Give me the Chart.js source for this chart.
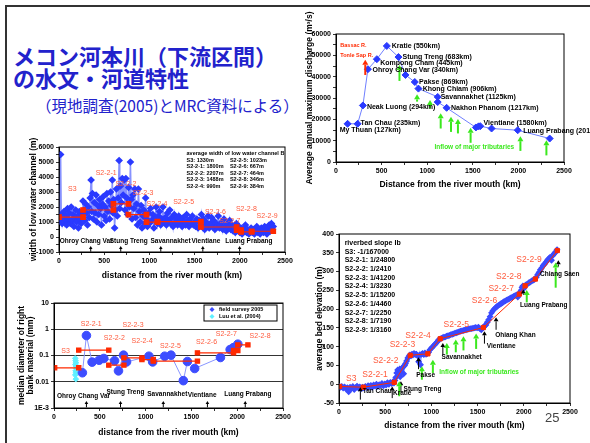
<!DOCTYPE html>
<html lang="ja">
<head>
<meta charset="utf-8">
<title>メコン河本川（下流区間）の水文・河道特性</title>
<script src="https://cdn.jsdelivr.net/npm/chart.js@4.4.1/dist/chart.umd.min.js"></script>
<style>
  html, body { margin: 0; padding: 0; background: #fff; }
  body { position: relative; width: 590px; height: 443px; overflow: hidden; }
  #frame { position: absolute; left: 5px; top: 5px; width: 620px; height: 460px; border-left: 2px solid #333; border-top: 2px solid #333; }
  #title { position: absolute; left: 13px; top: 44px; font: bold 22px "Noto Sans CJK JP"; line-height: 22px; color: #2222cc; white-space: nowrap; }
  #sub { position: absolute; left: 36px; top: 94px; font: 15.5px "Noto Sans CJK JP"; color: #2222cc; white-space: nowrap; }
  #page { position: absolute; left: 545px; top: 410px; font: 13px "Liberation Sans"; color: #444; }
  canvas { position: absolute; }
</style>
</head>
<body>
<div id="frame"></div>
<div id="title">メコン河本川（下流区間）<br>の水文・河道特性</div>
<div id="sub">（現地調査(2005)とMRC資料による）</div>
<canvas id="discharge" width="290" height="195" style="left:300px;top:0px"></canvas>
<canvas id="width" width="290" height="155" style="left:10px;top:128px"></canvas>
<canvas id="grain" width="290" height="150" style="left:10px;top:290px"></canvas>
<canvas id="bed" width="290" height="218" style="left:300px;top:225px"></canvas>
<div id="page">25</div>
<script>
// ---------------- data ----------------

// average annual maximum discharge (top right)
const kmQ = [127, 237, 295, 350, 448, 557, 685, 762, 864, 904, 1115, 1115, 1213, 1534, 1563, 1582, 1706, 1993, 2343];
const dischargeQ = [17900, 17900, 26500, 43500, 48200, 54400, 49200, 40800, 37500, 34400, 30500, 28100, 25400, 16200, 16700, 16800, 15700, 14900, 11000];

// sections of the lower Mekong
const sections = ["S3", "S2-2-1", "S2-2-2", "S2-2-3", "S2-2-4", "S2-2-5", "S2-2-6", "S2-2-7", "S2-2-8", "S2-2-9"];

// width of low water channel, survey points [km, m]
const surveyWidth = [
    [0, 1300], [10, 1100], [18, 5500], [25, 1500], [35, 900], [45, 1300], [55, 1700], [65, 1000], [75, 1400], [85, 800],
    [95, 1900], [105, 1200], [115, 1600], [125, 900], [135, 2000], [145, 1100], [155, 1500], [165, 700], [175, 1300], [185, 1800],
    [195, 1000], [205, 1400], [215, 600], [225, 1700], [235, 1200], [245, 900], [255, 1500], [265, 2400], [275, 1800], [285, 1100],
    [295, 2200], [305, 1600], [315, 800], [325, 2000], [335, 1300], [345, 2600], [355, 3800], [362, 1700], [370, 2900], [380, 1200],
    [390, 2300], [400, 1600], [410, 2800], [420, 1000], [430, 2100], [440, 1500], [450, 2500], [460, 1900], [470, 800], [480, 2200],
    [490, 2700], [500, 1400], [510, 2000], [520, 1100], [530, 2900], [540, 1700], [550, 2400], [560, 1200], [570, 3000], [580, 2100],
    [590, 3800], [598, 1600], [605, 2500], [615, 600], [625, 1800], [635, 3200], [645, 1400], [655, 2600], [665, 5100], [672, 1900],
    [680, 3400], [690, 2300], [700, 3900], [710, 2800], [720, 3800], [730, 1800], [740, 3900], [750, 2600], [760, 1500], [770, 3300],
    [780, 2000], [790, 5000], [798, 2500], [808, 1200], [818, 2800], [828, 1900], [838, 3200], [848, 1300], [858, 2200], [868, 800],
    [878, 3200], [888, 1700], [898, 1000], [908, 2100], [918, 600], [928, 1400], [938, 1800], [948, 900], [958, 2600], [968, 1200],
    [978, 700], [990, 1600], [1000, 900], [1012, 1900], [1025, 1100], [1038, 1500], [1050, 600], [1062, 1300], [1075, 2000], [1088, 900],
    [1100, 1400], [1112, 1700], [1125, 800], [1138, 1200], [1150, 2000], [1162, 1000], [1175, 1300], [1188, 800], [1200, 1600], [1212, 1100],
    [1225, 1800], [1238, 900], [1250, 1300], [1262, 700], [1275, 1500], [1288, 1000], [1300, 1200], [1312, 800], [1325, 1400], [1338, 900],
    [1350, 1100], [1362, 700], [1375, 1300], [1388, 1000], [1400, 800], [1412, 1500], [1425, 1100], [1438, 700], [1450, 1200], [1462, 900],
    [1475, 1400], [1488, 800], [1500, 1000], [1512, 700], [1525, 1200], [1538, 600], [1550, 1100], [1562, 900], [1575, 1500], [1588, 700],
    [1600, 1200], [1612, 500], [1625, 1000], [1638, 800], [1650, 1400], [1662, 600], [1675, 900], [1688, 1300], [1700, 700], [1712, 1100],
    [1725, 500], [1738, 900], [1750, 700], [1762, 1400], [1775, 600], [1788, 800], [1800, 1000], [1812, 500], [1825, 1200], [1838, 700],
    [1850, 400], [1862, 900], [1875, 600], [1888, 1100], [1900, 500], [1912, 800], [1925, 400], [1938, 700], [1950, 300], [1962, 900],
    [1975, 500], [1988, 700], [2000, 300], [2012, 600], [2025, 200], [2038, 500], [2050, 400], [2062, 800], [2075, 300], [2088, 500],
    [2100, 200], [2112, 400], [2125, 600], [2138, 300], [2150, 500], [2162, 200], [2175, 400], [2188, 700], [2200, 300], [2212, 500],
    [2225, 200], [2238, 600], [2250, 400], [2262, 300], [2275, 700], [2288, 400], [2300, 200], [2312, 600], [2325, 800], [2338, 400],
    [2350, 900], [2362, 500], [2370, 700]
];
// average width per section
const secStartB = [0, 266, 602, 768, 968, 1089, 1570, 1965, 2013, 2131];
const secEndB = [266, 602, 768, 968, 1089, 1570, 1965, 2013, 2131, 2370];
const secWidthB = [1330, 1800, 2207, 1488, 990, 1023, 667, 464, 346, 384];

// median diameter of right bank material
const kmGrain = [310, 354, 416, 493, 544, 661, 704, 759, 792, 1036, 1077, 1208, 1277, 1412, 1456, 1536, 1817, 1923, 1960, 2007];
const diaGrain = [0.022, 0.575, 0.056, 0.066, 0.077, 0.063, 0.026, 0.103, 0.057, 0.094, 0.057, 0.094, 0.103, 0.011, 0.059, 0.032, 0.084, 0.169, 0.2, 0.27];
const kmLuu = [232, 236, 240, 234, 238, 242, 236, 240, 232, 238];
const diaLuu = [0.078, 0.063, 0.053, 0.046, 0.04, 0.032, 0.026, 0.022, 0.018, 0.0126];
const secStartC = [7, 270, 598, 763, 960, 1084, 1566, 1960, 2007];
const secEndC = [270, 598, 763, 960, 1084, 1566, 1960, 2007, 2117];
const secDiaC = [0.034, 0.16, 0.043, 0.081, 0.07, 0.061, 0.126, 0.155, 0.254];
const logTicksC = [0.001, 0.01, 0.1, 1, 10];

// average bed elevation, survey points [km, m]
const surveyBed = [
    [0, -5], [15, -8], [30, -6], [45, -10], [60, -7], [75, -12], [90, -9], [105, -20], [120, -8], [135, -11],
    [150, -6], [165, -14], [180, -9], [195, -5], [210, -10], [225, -7], [240, -12], [255, -8],
    [270, -10], [285, -6], [300, -9], [315, -4], [330, -7], [345, -3], [360, -8], [375, -2], [390, -5], [405, 0],
    [420, -6], [435, -1], [450, -3], [465, 2], [480, -4], [495, 1], [510, -2], [525, 4], [540, 0], [555, 5],
    [570, 2], [585, 7], [595, 3],
    [605, 10], [615, 18], [625, 30], [635, 38], [645, 25], [655, 40], [662, 20], [670, 35], [680, 42], [690, 45],
    [700, 28], [710, 50], [720, 55], [732, 62], [745, 70], [758, 75], [768, 78],
    [780, 76], [790, 80], [800, 78], [812, 82], [825, 79], [838, 80], [850, 76], [862, 60], [872, 78], [882, 52],
    [892, 80], [905, 82], [918, 79], [930, 83], [942, 80], [955, 82],
    [970, 85], [985, 92], [1000, 96], [1015, 100], [1030, 104], [1045, 108], [1060, 112], [1075, 117], [1090, 120],
    [1105, 122], [1120, 124], [1135, 125], [1150, 126], [1165, 128], [1180, 129], [1195, 130], [1210, 132], [1225, 133],
    [1240, 134], [1255, 136], [1270, 137], [1285, 138], [1300, 140], [1315, 141], [1330, 142], [1345, 143], [1360, 144],
    [1375, 145], [1390, 146], [1405, 147], [1420, 148], [1435, 148], [1450, 149], [1465, 150], [1480, 151], [1495, 150],
    [1510, 152], [1525, 148], [1540, 145], [1555, 150], [1565, 152],
    [1575, 155], [1590, 158], [1605, 165], [1620, 172], [1635, 180], [1650, 190], [1665, 196], [1680, 200], [1695, 204],
    [1710, 207], [1725, 210], [1740, 212], [1755, 215], [1770, 217], [1785, 220], [1800, 222], [1815, 224], [1830, 226],
    [1845, 228], [1860, 230], [1875, 232], [1890, 234], [1905, 236], [1920, 238], [1935, 232], [1945, 238],
    [1960, 245], [1970, 250], [1980, 258], [1990, 262], [2000, 255], [2010, 262],
    [2025, 265], [2040, 267], [2055, 270], [2070, 272], [2085, 275], [2100, 277], [2115, 279],
    [2135, 285], [2150, 292], [2165, 298], [2180, 305], [2195, 310], [2210, 316], [2225, 320], [2240, 325], [2255, 330],
    [2270, 334], [2285, 338], [2300, 330], [2315, 343], [2330, 348], [2345, 352], [2360, 358]
];
// section end points of the bed profile
const kmBed = [6, 263, 598, 771, 962, 1095, 1563, 1952, 2014, 2125, 2363];
const elevBed = [-6, -8, 5, 77, 81, 121, 151, 240, 262, 280, 356];
const slopeBed = ["-1/167000", "1/24800", "1/2410", "1/41200", "1/3230", "1/15200", "1/4460", "1/2250", "1/7190", "1/3160"];

// ---------------- styles ----------------
const FONT = '"Liberation Sans", Arial, sans-serif';
const RED = "#ff2a00";
const RED_TXT = "#ff5a3c";
const GREEN = "#3be81e";
const BLUE = "#2a3aff";
const BLUE_LINE = "rgba(95,110,255,0.75)";

// Draw a box round the plot area
const framePlugin = {
    id: "frame",
    afterDatasetsDraw(chart) {
        const a = chart.chartArea;
        const ctx = chart.ctx;
        ctx.save();
        ctx.strokeStyle = "#000";
        ctx.lineWidth = 1;
        ctx.strokeRect(a.left, a.top, a.right - a.left, a.bottom - a.top);
        ctx.restore();
    },
};

function drawArrow(ctx, x, yFrom, yTo, st) {
    ctx.strokeStyle = st.color;
    ctx.fillStyle = st.color;
    ctx.lineWidth = st.width;
    ctx.beginPath();
    ctx.moveTo(x, yFrom);
    ctx.lineTo(x, yTo + st.head);
    ctx.stroke();
    ctx.beginPath();
    ctx.moveTo(x, yTo);
    ctx.lineTo(x - st.head * 0.6, yTo + st.head);
    ctx.lineTo(x + st.head * 0.6, yTo + st.head);
    ctx.closePath();
    ctx.fill();
}

// Text and arrows placed in data coordinates
const notesPlugin = {
    id: "notes",
    afterDraw(chart, args, opts) {
        const ctx = chart.ctx;
        const xs = chart.scales.x;
        const ys = chart.scales.y;
        ctx.save();
        (opts.arrows || []).forEach(g => {
            g.items.forEach(a => drawArrow(ctx, xs.getPixelForValue(a[0]), ys.getPixelForValue(a[1]), ys.getPixelForValue(a[2]), g));
        });
        ctx.textAlign = "left";
        ctx.textBaseline = "middle";
        (opts.texts || []).forEach(g => {
            ctx.font = g.font;
            ctx.fillStyle = g.color;
            g.items.forEach(t => ctx.fillText(t[0], xs.getPixelForValue(t[1]), ys.getPixelForValue(t[2])));
        });
        (opts.blocks || []).forEach(b => {
            ctx.font = b.font;
            ctx.fillStyle = "#000";
            const y0 = ys.getPixelForValue(b.y);
            b.rows.forEach((r, i) => {
                ctx.fillText(r[0], xs.getPixelForValue(b.x), y0 + i * b.dy);
                if (r[1]) ctx.fillText(r[1], xs.getPixelForValue(b.x2), y0 + i * b.dy);
            });
        });
        ctx.restore();
    },
};

Chart.register(framePlugin, notesPlugin);

function axis(o) {
    return {
        type: o.type || "linear",
        min: o.min,
        max: o.max,
        afterFit: s => {
            if (o.w) s.width = o.w;
            if (o.h) s.height = o.h;
        },
        afterBuildTicks: o.ticksAt ? s => { s.ticks = o.ticksAt.map(v => ({ value: v })); } : undefined,
        border: { display: true, color: "#000", width: 1 },
        grid: { drawOnChartArea: !!o.grid, color: "#000", lineWidth: 0.8, tickLength: 3 },
        ticks: {
            stepSize: o.step,
            autoSkip: false,
            maxRotation: 0,
            padding: 2,
            color: "#000",
            font: { family: FONT, size: 7, weight: "bold" },
            callback: o.fmt || (v => (v % o.every === 0 ? v : "")),
        },
        title: {
            display: true,
            text: o.title,
            color: "#000",
            padding: o.tpad,
            font: { family: FONT, size: 8.5, weight: "bold", lineHeight: 1.05 },
        },
    };
}

function segments(starts, ends, levels) {
    const pts = [];
    starts.forEach((s, i) => {
        pts.push({ x: s, y: levels[i] }, { x: ends[i], y: levels[i] }, { x: ends[i], y: null });
    });
    return pts;
}

const base = {
    responsive: false,
    animation: false,
    devicePixelRatio: 1,
    events: [],
};
const noLegend = { legend: { display: false }, tooltip: { enabled: false } };

// ---------------- discharge (top right) ----------------
new Chart(document.getElementById("discharge"), {
    type: "scatter",
    data: {
        datasets: [{
            data: kmQ.map((k, i) => ({ x: k, y: dischargeQ[i] })),
            showLine: true,
            borderColor: "#6f7fff",
            borderWidth: 1,
            pointStyle: "rectRot",
            pointRadius: 3.5,
            pointBackgroundColor: BLUE,
            pointBorderColor: BLUE,
        }],
    },
    options: {
        ...base,
        layout: { padding: { top: 34, right: 26 } },
        scales: {
            x: axis({ min: 0, max: 2500, step: 250, every: 500, h: 33, tpad: { bottom: 6 }, title: "Distance from the river mouth (km)" }),
            y: axis({ min: 0, max: 60000, step: 5000, every: 10000, w: 36, tpad: { top: 5 }, title: "Average annual maximum discharge (m³/s)" }),
        },
        plugins: {
            ...noLegend,
            notes: {
                arrows: [
                    { color: GREEN, width: 2, head: 5, items: [[696, 38000, 45500], [889, 28300, 31700], [1031, 25100, 29100], [1148, 15700, 22800], [1261, 14100, 21200], [1337, 13400, 20100], [1476, 9000, 16000], [2022, 5200, 12100], [2307, 3100, 10200]] },
                    { color: RED, width: 2, head: 5, items: [[321, 40800, 47900]] },
                ],
                texts: [
                    { color: RED, font: "bold 5.5px " + FONT, items: [["Bassac R.", 47, 54700], ["Tonle Sap R.", 47, 49800]] },
                    {
                        color: "#000", font: "bold 7px " + FONT, items: [
                            ["Kratie (550km)", 612, 54400], ["Stung Treng (683km)", 729, 49200], ["Kompong Cham (445km)", 485, 46300],
                            ["Ohroy Chang Var (340km)", 401, 42900], ["Pakse (869km)", 911, 37500], ["Khong Chiam (906km)", 951, 34100],
                            ["Savannakhet (1125km)", 1148, 30300], ["Nakhon Phanom (1217km)", 1261, 25100], ["Neak Luong (294km)", 339, 25900],
                            ["Tan Chau (235km)", 270, 18400], ["My Thuan (127km)", 40, 15200], ["Vientiane (1580km)", 1618, 18100],
                            ["Luang Prabang (2010km)", 2052, 14500],
                        ],
                    },
                    { color: GREEN, font: "bold 6.5px " + FONT, items: [["Inflow of major tributaries", 1079, 7100]] },
                ],
            },
        },
    },
});

// ---------------- width of low water channel (top left) ----------------
const stationArrow = { color: "#000", width: 1, head: 3 };
new Chart(document.getElementById("width"), {
    type: "scatter",
    data: {
        datasets: [
            {
                data: segments(secStartB, secEndB, secWidthB),
                showLine: true,
                borderColor: RED,
                borderWidth: 1.2,
                pointStyle: "rect",
                pointRadius: 3.2,
                pointBackgroundColor: RED,
                pointBorderColor: RED,
            },
            {
                data: surveyWidth.map(p => ({ x: p[0], y: p[1] })),
                showLine: true,
                borderColor: BLUE_LINE,
                borderWidth: 1.5,
                pointStyle: "rectRot",
                pointRadius: 2.8,
                pointBackgroundColor: BLUE,
                pointBorderColor: BLUE,
            },
        ],
    },
    options: {
        ...base,
        layout: { padding: { top: 19, right: 15 } },
        scales: {
            x: axis({ min: 0, max: 2500, step: 250, every: 500, h: 31, tpad: { bottom: 3 }, title: "distance from the river mouth (km)" }),
            y: axis({ min: -1000, max: 6000, step: 500, every: 1000, w: 49, tpad: { top: 19 }, title: "width of low water channel (m)" }),
        },
        plugins: {
            ...noLegend,
            notes: {
                arrows: [{ ...stationArrow, items: [[351, -980, -600], [683, -980, -600], [1126, -980, -600], [1591, -980, -600], [1998, -980, -600]] }],
                texts: [
                    {
                        color: RED_TXT, font: "7px " + FONT, items: [
                            [sections[0], 100, 3170], [sections[1], 406, 4270], [sections[2], 624, 3560], [sections[3], 812, 2900],
                            [sections[4], 968, 2170], [sections[5], 1263, 2320], [sections[6], 1614, 1660], [sections[7], 1773, 1080],
                            [sections[8], 1957, 1840], [sections[9], 2186, 1390],
                        ],
                    },
                    {
                        color: "#000", font: "bold 6.5px " + FONT, items: [
                            ["Ohroy Chang Var", 7, -270], ["Stung Treng", 561, -270], ["Savannakhet", 1012, -270],
                            ["Vientiane", 1466, -270], ["Luang Prabang", 1839, -270],
                        ],
                    },
                ],
                blocks: [{
                    font: "bold 5.5px " + FONT, x: 1411, x2: 1891, y: 5560, dy: 6.5,
                    rows: [["average width of low water channel B", ""]].concat(
                        [0, 1, 2, 3, 4].map(i => [sections[i] + ": " + secWidthB[i] + "m", sections[i + 5] + ": " + secWidthB[i + 5] + "m"])
                    ),
                }],
            },
        },
    },
});

// ---------------- median diameter (bottom left) ----------------
const grainLegend = {
    id: "grainLegend",
    afterDraw(chart) {
        const a = chart.chartArea;
        const ctx = chart.ctx;
        const x0 = a.right - 79, y0 = a.top + 2;
        ctx.save();
        ctx.fillStyle = "#fff";
        ctx.fillRect(x0, y0, 73, 16);
        ctx.strokeStyle = "#000";
        ctx.lineWidth = 1;
        ctx.strokeRect(x0, y0, 73, 16);
        ctx.font = "bold 5.5px " + FONT;
        ctx.textBaseline = "middle";
        chart.data.datasets.slice(1).forEach((d, i) => {
            const y = y0 + 4.5 + i * 7;
            ctx.fillStyle = d.pointBackgroundColor;
            ctx.beginPath();
            ctx.moveTo(x0 + 8, y - 2.5);
            ctx.lineTo(x0 + 10.5, y);
            ctx.lineTo(x0 + 8, y + 2.5);
            ctx.lineTo(x0 + 5.5, y);
            ctx.fill();
            ctx.fillStyle = "#000";
            ctx.fillText(d.label, x0 + 15, y);
        });
        ctx.restore();
    },
};
new Chart(document.getElementById("grain"), {
    type: "scatter",
    data: {
        datasets: [
            {
                data: segments(secStartC, secEndC, secDiaC),
                showLine: true,
                borderColor: RED,
                borderWidth: 1.2,
                pointStyle: "rect",
                pointRadius: 3,
                pointBackgroundColor: RED,
                pointBorderColor: RED,
            },
            {
                label: "field survey 2005",
                data: kmGrain.map((k, i) => ({ x: k, y: diaGrain[i] })),
                showLine: true,
                borderColor: "#8a96ff",
                borderWidth: 1,
                pointStyle: "circle",
                pointRadius: 4.3,
                pointBackgroundColor: "#3d4dff",
                pointBorderColor: "#3d4dff",
            },
            {
                label: "Luu et al. (2004)",
                data: kmLuu.map((k, i) => ({ x: k, y: diaLuu[i] })),
                pointStyle: "rectRot",
                pointRadius: 2.8,
                pointBackgroundColor: "#5ff0ff",
                pointBorderColor: "#5ff0ff",
            },
        ],
    },
    options: {
        ...base,
        layout: { padding: { top: 13, right: 17 } },
        scales: {
            x: axis({ min: 0, max: 2500, step: 250, every: 500, h: 32, tpad: { bottom: 3 }, title: "distance from the river mouth (km)" }),
            y: axis({
                type: "logarithmic", min: 0.001, max: 10, w: 44, grid: true, ticksAt: logTicksC, tpad: { top: 7 },
                fmt: v => (v === 0.001 ? "1E-3" : String(v)),
                title: ["median diameter of right", "bank material (mm)"],
            }),
        },
        plugins: {
            ...noLegend,
            notes: {
                arrows: [{ ...stationArrow, items: [[354, 0.00106, 0.00185], [726, 0.00106, 0.00185], [1193, 0.00106, 0.00185], [1675, 0.00106, 0.00185], [2088, 0.00106, 0.00185]] }],
                texts: [
                    {
                        color: RED_TXT, font: "7px " + FONT, items: [
                            [sections[0], 80, 0.15], [sections[1], 292, 1.55], [sections[2], 544, 0.48], [sections[3], 748, 1.46],
                            [sections[4], 847, 0.36], [sections[5], 1157, 0.226], [sections[6], 1551, 0.33], [sections[7], 1766, 0.645],
                            [sections[8], 2135, 0.54],
                        ],
                    },
                    {
                        color: "#000", font: "bold 6.5px " + FONT, items: [
                            ["Ohroy Chang Var", 33, 0.00286], ["Stung Treng", 573, 0.00417], ["Savannakhet", 1018, 0.00324],
                            ["Vientiane", 1460, 0.00311], ["Luang Prabang", 1858, 0.00324],
                        ],
                    },
                ],
            },
        },
    },
    plugins: [grainLegend],
});

// ---------------- bed elevation (bottom right) ----------------
new Chart(document.getElementById("bed"), {
    type: "scatter",
    data: {
        datasets: [
            {
                data: kmBed.map((k, i) => ({ x: k, y: elevBed[i] })),
                showLine: true,
                borderColor: RED,
                borderWidth: 1,
                pointStyle: "rect",
                pointRadius: 3,
                pointBackgroundColor: RED,
                pointBorderColor: RED,
            },
            {
                data: surveyBed.map(p => ({ x: p[0], y: p[1] })),
                showLine: true,
                borderColor: BLUE_LINE,
                borderWidth: 1.2,
                pointStyle: "rectRot",
                pointRadius: 2.6,
                pointBackgroundColor: "#3a4aff",
                pointBorderColor: "#3a4aff",
            },
        ],
    },
    options: {
        ...base,
        layout: { padding: { top: 9, right: 20 } },
        scales: {
            x: axis({ min: 0, max: 2500, step: 250, every: 500, h: 40, tpad: { bottom: 13 }, title: "distance from the river mouth (km)" }),
            y: axis({ min: -50, max: 400, step: 50, every: 50, w: 39, tpad: { top: 15 }, title: "average bed elevation (m)" }),
        },
        plugins: {
            ...noLegend,
            notes: {
                arrows: [
                    { color: "#000", width: 1, head: 4, items: [[231, -41, -8], [576, -37, -6], [670, -22, 8], [861, 40, 72], [1124, 79, 110], [1574, 108, 141], [1700, 145, 178], [1995, 238, 252], [2374, 313, 330]] },
                    { color: GREEN, width: 2, head: 5, items: [[652, -32, 8], [897, 12, 48], [1016, 30, 65], [1167, 79, 110], [1264, 85, 119], [1347, 90, 128], [1484, 94, 135], [2032, 218, 251], [2345, 257, 324]] },
                ],
                texts: [
                    {
                        color: RED_TXT, font: "8.5px " + FONT, items: [
                            [sections[0], 76, 14], [sections[1], 252, 25], [sections[2], 367, 63], [sections[3], 548, 105],
                            [sections[4], 717, 128], [sections[5], 1131, 158], [sections[6], 1437, 222], [sections[7], 1617, 255],
                            [sections[8], 1700, 287], [sections[9], 1918, 332],
                        ],
                    },
                    {
                        color: "#000", font: "bold 6.5px " + FONT, items: [
                            ["Tan Chau", 256, -18], ["Kratie", 584, -25], ["Stung Treng", 699, -13], ["Pakse", 836, 24],
                            ["Savannakhet", 1110, 72], ["Vientiane", 1599, 102], ["Ohiang Khan", 1690, 130],
                            ["Luang Prabang", 1960, 210], ["Chiang Saen", 2176, 292],
                        ],
                    },
                    { color: GREEN, font: "bold 6.5px " + FONT, items: [["Inflow of major tributaries", 1084, 32]] },
                ],
                blocks: [{
                    font: "bold 7px " + FONT, x: 61, y: 376, dy: 8.7,
                    rows: [["riverbed slope Ib", ""]].concat(sections.map((s, i) => [s + ": " + slopeBed[i], ""])),
                }],
            },
        },
    },
});
</script>
</body>
</html>
